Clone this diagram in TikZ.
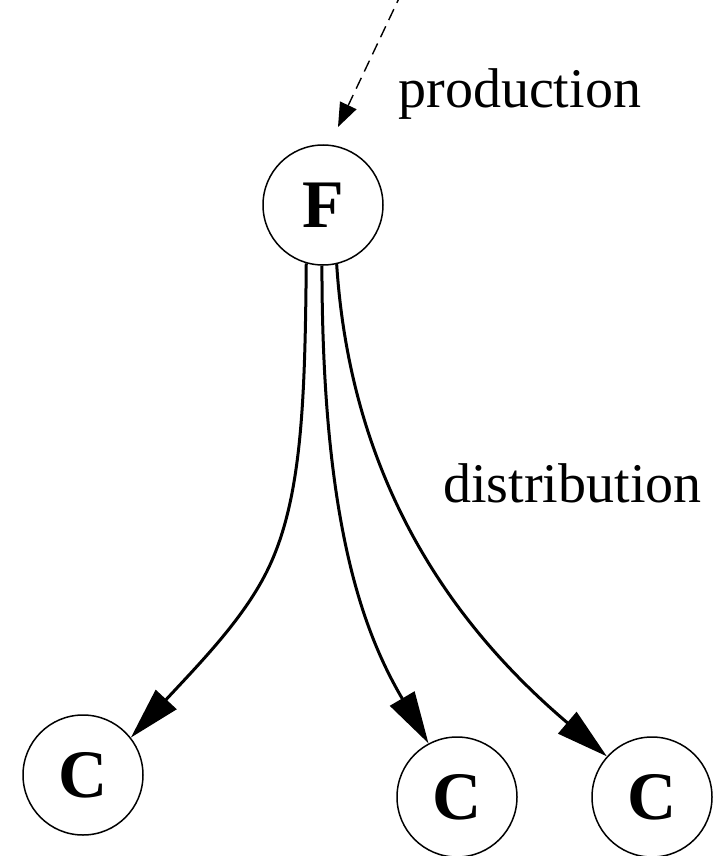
\documentclass[tikz,border=0pt]{standalone}
\usepackage{fontspec}
\setmainfont{Liberation Serif}
\usetikzlibrary{arrows.meta}
\begin{document}
\begin{tikzpicture}[x=0.5pt,y=-0.5pt,
  state/.style={circle,draw,line width=0.75pt,minimum size=60pt,inner sep=0pt,font=\fontsize{34}{34}\selectfont\bfseries},
  label/.style={inner sep=0pt,anchor=base west,font=\fontsize{28}{28}\selectfont},
  flow/.style={line width=1.5pt,-{Triangle[length=26pt,width=14pt]}},
  feed/.style={line width=0.7pt,dash pattern=on 6pt off 3.5pt,-{Triangle[length=12pt,width=9pt]}}]
\useasboundingbox (0,0) rectangle (720,856);
\node[state] (F) at (323,205) {F};
\node[state] (cl) at (83,775) {C};
\node[state] (cm) at (457,797) {C};
\node[state] (cr) at (652,797) {C};
\node[label] (prod) at (398,108) {production};
\node[label] (dist) at (443,502) {distribution};
\coordinate (src) at (402,-8);
\coordinate (feedend) at (338,127);
\draw[feed] (src) -- (feedend);
\draw[flow] (F.254.6) .. controls (305,400) and (302,497) .. (269,567)
  .. controls (245.5,617) and (200,663) .. (cl.38);
\draw[flow] (F.269) .. controls (322,520) and (362,630) .. (cm.118);
\draw[flow] (F.283.6) .. controls (352,500) and (470,640) .. (cr.138);
\end{tikzpicture}
\end{document}
